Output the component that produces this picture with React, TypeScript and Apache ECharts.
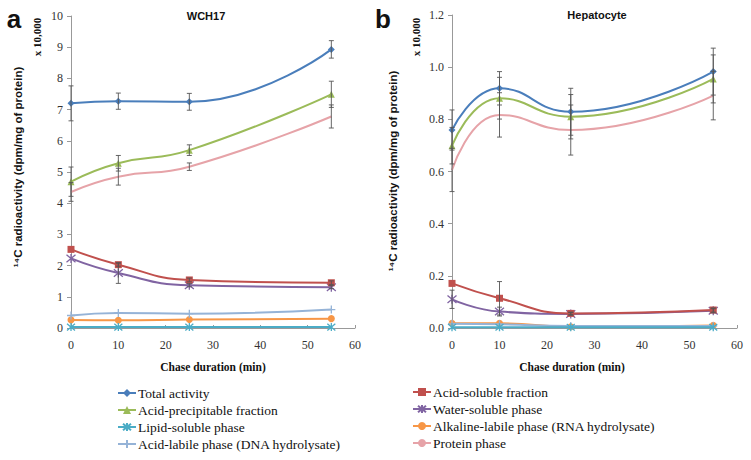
import React, { useEffect, useRef } from "react";
import * as echarts from "echarts";

// ---------- data ----------
const chaseMin = [0, 10, 25, 55];
const xTicks = [0, 10, 20, 30, 40, 50, 60];

const seriesNames = [
  "Total activity",
  "Acid-precipitable fraction",
  "Lipid-soluble phase",
  "Acid-labile phase (DNA hydrolysate)",
  "Acid-soluble fraction",
  "Water-soluble phase",
  "Alkaline-labile phase (RNA hydrolysate)",
  "Protein phase",
];

// WCH17 (x 10,000 dpm/mg protein)
const wchTotal = [7.2, 7.27, 7.25, 8.93];
const wchAcidPrecip = [4.69, 5.28, 5.7, 7.49];
const wchLipid = [0.03, 0.03, 0.03, 0.03];
const wchAcidLabile = [0.4, 0.48, 0.46, 0.59];
const wchAcidSoluble = [2.52, 2.03, 1.54, 1.45];
const wchWaterSoluble = [2.23, 1.76, 1.37, 1.31];
const wchAlkaline = [0.26, 0.25, 0.27, 0.3];
const wchProtein = [4.36, 4.85, 5.17, 6.78];

const wchTotalErr = [0.56, 0.26, 0.27, 0.28];
const wchAcidPrecipErr = [0.47, 0.25, 0.17, 0.42];
const wchProteinErr = [0.3, 0.27, 0.12, 0.37];
const wchWaterSolubleErr = [0, 0.33, 0.05, 0.05];
const wchAcidSolubleErr = [0, 0.05, 0.06, 0.06];

// Hepatocyte (x 10,000 dpm/mg protein)
const hepTotal = [0.759, 0.919, 0.829, 0.983];
const hepAcidPrecip = [0.699, 0.881, 0.81, 0.955];
const hepLipid = [0.003, 0.003, 0.003, 0.003];
const hepAcidLabile = [0.016, 0.014, 0.008, 0.008];
const hepAcidSoluble = [0.171, 0.114, 0.056, 0.069];
const hepWaterSoluble = [0.11, 0.063, 0.054, 0.066];
const hepAlkaline = [0.018, 0.018, 0.005, 0.01];
const hepProtein = [0.606, 0.817, 0.759, 0.891];

const hepTotalErr = [0.077, 0.064, 0.09, 0.09];
const hepAcidPrecipErr = [0.07, 0.08, 0.085, 0.092];
const hepProteinErr = [0.083, 0.085, 0.096, 0.093];
const hepAcidSolubleErr = [0, 0.064, 0.005, 0.008];
const hepWaterSolubleErr = [0.035, 0.017, 0.005, 0.008];

const wchYTicks = [0, 1, 2, 3, 4, 5, 6, 7, 8, 9, 10];
const hepYTicks = [0, 0.2, 0.4, 0.6, 0.8, 1.0, 1.2];

// ---------- styles ----------
const colors = ["#4a7ebb", "#9bbb59", "#4bacc6", "#95b3d7", "#c0504d", "#8064a2", "#f79646", "#e6a3a8"];
const symAst = "path://M0,0L10,10M10,0L0,10M5,-1L5,11";
const symPlus = "path://M0,5L10,5M5,0L5,10";
const symbols = ["diamond", "triangle", symAst, symPlus, "rect", symAst, "circle", "none"];
const symSizes = [7, 7, 8, 8, 7, 9, 7, 0];
const serif = "'Liberation Serif', 'Times New Roman', serif";
const sans = "'Liberation Sans', Arial, sans-serif";

function lineSeries(vals: number[][], axisIdx: number) {
  return vals.map((v, i) => {
    const isPath = typeof symbols[i] === "string" && (symbols[i] as string).startsWith("path://");
    return {
      type: "line",
      name: seriesNames[i],
      xAxisIndex: axisIdx,
      yAxisIndex: axisIdx,
      data: chaseMin.map((x, k) => [x, v[k]]),
      smooth: 0.5,
      symbol: symbols[i],
      symbolSize: symSizes[i],
      showSymbol: symbols[i] !== "none",
      lineStyle: { color: colors[i], width: 2 },
      itemStyle: isPath
        ? { color: colors[i], borderColor: colors[i], borderWidth: 1.3 }
        : { color: colors[i] },
      z: 3 + (7 - i) * 0.01,
    };
  });
}

function errSeries(vals: number[][], errs: number[][], axisIdx: number) {
  const data: number[][] = [];
  errs.forEach((e, i) => {
    e.forEach((ev, k) => {
      if (ev > 0) data.push([chaseMin[k], vals[i][k], ev]);
    });
  });
  return {
    type: "custom",
    name: "err" + axisIdx,
    xAxisIndex: axisIdx,
    yAxisIndex: axisIdx,
    data,
    z: 4,
    encode: { x: 0, y: 1 },
    renderItem: (params: any, api: any) => {
      const x = api.value(0);
      const y = api.value(1);
      const e = api.value(2);
      const top = api.coord([x, y + e]);
      const bot = api.coord([x, y - e]);
      const w = 2.5;
      const st = { stroke: "#555", lineWidth: 0.9 };
      return {
        type: "group",
        children: [
          { type: "line", shape: { x1: top[0], y1: top[1], x2: bot[0], y2: bot[1] }, style: st },
          { type: "line", shape: { x1: top[0] - w, y1: top[1], x2: top[0] + w, y2: top[1] }, style: st },
          { type: "line", shape: { x1: bot[0] - w, y1: bot[1], x2: bot[0] + w, y2: bot[1] }, style: st },
        ],
      };
    },
  };
}

export default function App() {
  const ref = useRef<HTMLDivElement>(null);
  useEffect(() => {
    if (!ref.current) return;
    const chart = echarts.init(ref.current, undefined, { renderer: "svg" });

    const axisLineStyle = { lineStyle: { color: "#999", width: 1 } };
    const xAxisBase = {
      type: "value",
      min: xTicks[0],
      max: xTicks[xTicks.length - 1],
      interval: 10,
      axisLine: { show: true, onZero: false, ...axisLineStyle },
      axisTick: { show: true, inside: true, length: 3, lineStyle: { color: "#999" } },
      axisLabel: { fontFamily: serif, fontSize: 12, color: "#333", margin: 11 },
      splitLine: { show: false },
    };
    const yAxisBase = {
      type: "value",
      axisLine: { show: true, ...axisLineStyle },
      axisTick: { show: true, inside: false, length: 4, lineStyle: { color: "#999" } },
      splitLine: { show: false },
    };

    const wchVals = [wchTotal, wchAcidPrecip, wchLipid, wchAcidLabile, wchAcidSoluble, wchWaterSoluble, wchAlkaline, wchProtein];
    const hepVals = [hepTotal, hepAcidPrecip, hepLipid, hepAcidLabile, hepAcidSoluble, hepWaterSoluble, hepAlkaline, hepProtein];
    const wchErrVals = [wchTotal, wchAcidPrecip, wchProtein, wchWaterSoluble, wchAcidSoluble];
    const wchErrs = [wchTotalErr, wchAcidPrecipErr, wchProteinErr, wchWaterSolubleErr, wchAcidSolubleErr];
    const hepErrVals = [hepTotal, hepAcidPrecip, hepProtein, hepAcidSoluble, hepWaterSoluble];
    const hepErrs = [hepTotalErr, hepAcidPrecipErr, hepProteinErr, hepAcidSolubleErr, hepWaterSolubleErr];

    const yTitle = "¹⁴C radioactivity (dpm/mg of protein)";
    const textBold = (t: string, x: number, y: number, size: number, family: string, rot = 0) => ({
      type: "text",
      x,
      y,
      rotation: rot,
      style: {
        text: t,
        fontSize: size,
        fontWeight: "bold",
        fontFamily: family,
        fill: "#111",
        align: "center",
        verticalAlign: "middle",
      },
    });

    const legendBase = {
      orient: "vertical",
      itemWidth: 18,
      itemHeight: 10,
      itemGap: 3,
      textStyle: { fontFamily: serif, fontSize: 13.5, color: "#111", lineHeight: 14, padding: [0, 0, 0, -3] },
      selectedMode: false,
      padding: 0,
    };

    chart.setOption({
      animation: false,
      backgroundColor: "#ffffff",
      grid: [
        { left: 71, right: 751 - 355, top: 16, height: 312, containLabel: false },
        { left: 452, right: 751 - 737, top: 15, height: 313, containLabel: false },
      ],
      xAxis: [
        { ...xAxisBase, gridIndex: 0 },
        { ...xAxisBase, gridIndex: 1 },
      ],
      yAxis: [
        {
          ...yAxisBase,
          gridIndex: 0,
          min: wchYTicks[0],
          max: wchYTicks[wchYTicks.length - 1],
          interval: 1,
          axisLabel: { fontFamily: serif, fontSize: 12, color: "#333", margin: 8 },
        },
        {
          ...yAxisBase,
          gridIndex: 1,
          min: hepYTicks[0],
          max: hepYTicks[hepYTicks.length - 1],
          interval: 0.2,
          axisLabel: {
            fontFamily: serif,
            fontSize: 12,
            color: "#333",
            margin: 8,
            formatter: (v: number) => v.toFixed(1),
          },
        },
      ],
      legend: [
        { ...legendBase, left: 117, top: 386, data: seriesNames.slice(0, 4) },
        { ...legendBase, left: 412, top: 385, data: seriesNames.slice(4, 8) },
      ],
      series: [
        ...lineSeries(wchVals, 0),
        ...lineSeries(hepVals, 1),
        errSeries(wchErrVals, wchErrs, 0),
        errSeries(hepErrVals, hepErrs, 1),
      ],
      graphic: [
        textBold("a", 14, 19, 26, sans),
        textBold("b", 383, 19, 26, sans),
        textBold("WCH17", 206, 16, 11, sans),
        textBold("Hepatocyte", 597, 15, 11, sans),
        textBold("x 10,000", 37, 37, 11, serif, Math.PI / 2),
        textBold("x 10,000", 416, 37, 11, serif, Math.PI / 2),
        textBold(yTitle, 18, 167, 11.5, sans, Math.PI / 2),
        textBold(yTitle, 393, 171, 11.5, sans, Math.PI / 2),
        textBold("Chase duration (min)", 213, 367, 11.5, serif),
        textBold("Chase duration (min)", 572, 367, 11.5, serif),
      ],
    });
    return () => chart.dispose();
  }, []);
  return (
    <div
      ref={ref}
      style={{ position: "fixed", left: 0, top: 0, width: 751, height: 460, background: "#fff" }}
    />
  );
}
